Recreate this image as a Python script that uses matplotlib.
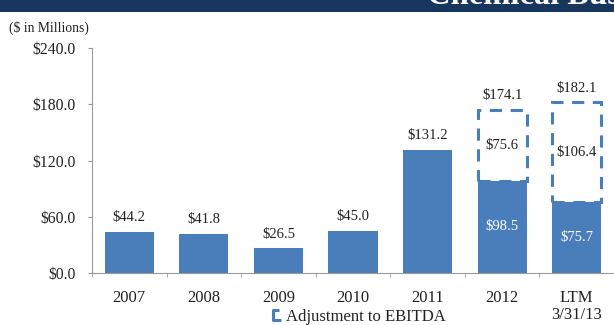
import matplotlib
matplotlib.use('Agg')
import matplotlib.pyplot as plt
from matplotlib.patches import Rectangle
from matplotlib.lines import Line2D
from matplotlib.path import Path
import numpy as np

# data
periods = ['2007', '2008', '2009', '2010', '2011', '2012', 'LTM\n3/31/13']
ebitda = [44.2, 41.8, 26.5, 45.0, 131.2, 98.5, 75.7]
adjustment = [0, 0, 0, 0, 0, 75.6, 106.4]
adj_total = [None, None, None, None, None, 174.1, 182.1]
yticks = [0, 60, 120, 180, 240]

blue = '#4a7ebb'
navy = '#17365d'
txt = '#222222'
plt.rcParams['font.family'] = ['Liberation Serif', 'DejaVu Serif']

fig = plt.figure(figsize=(6.14, 3.25), dpi=100)
W, H = 614.0, 325.0

# top banner (title runs off the top/right edge in the source)
fig.patches.append(Rectangle((0, 1 - 12 / H), 1, 12 / H, transform=fig.transFigure,
                             facecolor=navy, edgecolor='none'))
fig.text(427 / W, 1 - 4 / H, 'Chemical Business', color='white', fontsize=23.5,
         fontweight='bold', ha='left', va='baseline')
fig.text(9 / W, 1 - 28 / H, '($ in Millions)', fontsize=9.8, color=txt, va='center')

ax = fig.add_axes([92 / W, 1 - 273 / H, (614 - 92) / W, 225 / H])
x = np.arange(len(periods))
bw = 0.66
ax.bar(x, ebitda, width=bw, color=blue, zorder=2)

for i, v in enumerate(ebitda):
    if adjustment[i] > 0:
        ax.add_patch(Rectangle((x[i] - bw / 2, v), bw, adjustment[i], fill=False,
                               edgecolor=blue, linewidth=2.2, linestyle=(0, (4, 2.8)),
                               zorder=3))
        ax.text(x[i], v / 2, '$%.1f' % v, ha='center', va='center', color='white',
                fontsize=10.5)
        ax.text(x[i], v + adjustment[i] / 2, '$%.1f' % adjustment[i], ha='center',
                va='center', color=txt, fontsize=10.5)
        ax.text(x[i], adj_total[i] + 8, '$%.1f' % adj_total[i], ha='center',
                va='bottom', color=txt, fontsize=10.5)
    else:
        ax.text(x[i], v + 8, '$%.1f' % v, ha='center', va='bottom', color=txt,
                fontsize=10.5)

ax.set_xlim(-0.5, len(periods) - 0.5)
ax.set_ylim(0, 240)
ax.set_yticks(yticks)
ax.set_yticklabels(['$%.1f' % t for t in yticks])
ax.set_xticks(x)
ax.set_xticklabels(periods, linespacing=1.15)
ax.set_xticks(np.arange(len(periods) + 1) - 0.5, minor=True)
ax.tick_params(axis='x', which='major', length=0, pad=12, labelsize=12, colors=txt)
ax.tick_params(axis='x', which='minor', length=3, color='#999999')
ax.tick_params(axis='y', length=3, labelsize=11.3, colors=txt, pad=9)
ax.tick_params(axis='y', color='#999999')
for s in ['top', 'right']:
    ax.spines[s].set_visible(False)
for s in ['left', 'bottom']:
    ax.spines[s].set_color('#999999')
    ax.spines[s].set_linewidth(0.8)

# legend
bracket = Path([(0.6, 1), (-0.6, 1), (-0.6, -1), (1, -1)])
h = Line2D([], [], marker=bracket, linestyle='none', markersize=7,
           markeredgecolor=blue, markerfacecolor='none', markeredgewidth=2.2)
fig.legend([h], ['Adjustment to EBITDA'], loc='center', bbox_to_anchor=(358 / W, 1 - 317 / H),
           frameon=False, fontsize=12, handletextpad=0.2, handlelength=0.7,
           labelcolor=txt, borderpad=0)

fig.savefig('out.png', dpi=100)
